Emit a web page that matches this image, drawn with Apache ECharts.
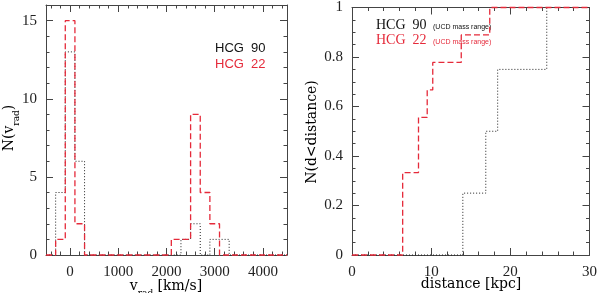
<!DOCTYPE html>
<html><head><meta charset="utf-8">
<script src="https://cdn.jsdelivr.net/npm/echarts@6/dist/echarts.min.js"></script>
<style>html,body{margin:0;padding:0;background:#fff}#c{width:600px;height:293px}</style>
</head><body><div id="c"></div>
<script>
// ---- Left panel: radial velocity histograms (bin edges, km/s) ----
const binEdges = [-500,-300,-100,100,300,500,700,900,1100,1300,1500,1700,1900,2100,2300,2500,2700,2900,3100,3300,3500,3700,3900,4100,4300,4500];
const countsHCG90 = [0,4,13,6,0,0,0,0,0,0,0,0,0,0,1,2,0,1,1,0,0,0,0,0,0];
const countsHCG22 = [0,1,15,2,0,0,0,0,0,0,0,0,0,1,1,9,4,2,0,0,0,0,0,0,0];
const vTicksMajor = [0,1000,2000,3000,4000];
const nTicksMajor = [0,5,10,15];
// ---- Right panel: cumulative distance distributions (kpc) ----
const distHCG90 = [0,14.0,16.9,18.4,24.6,30];
const cumHCG90  = [0,0.25,0.5,0.75,1,1];
const distHCG22 = [0,6.4,8.4,9.5,10.2,13.8,17.4,30];
const cumHCG22  = [0,0.333,0.556,0.667,0.778,0.889,1,1];

const RED = '#e52a3a', BLK = '#222';
const axisCol = '#444';
const tickFont = {fontFamily:'Liberation Serif', fontSize:15, color:'#222'};

function hist(counts){ return binEdges.map((e,i)=>[e, counts[Math.min(i,counts.length-1)]]); }
function zipXY(xs,ys){ return xs.map((x,i)=>[x,ys[i]]); }

const vMinor=[], nMinor=[];
for(let v=-400; v<=4400; v+=200) if(v%1000!==0) vMinor.push(v);
for(let n=1; n<=16; n++) if(n%5!==0) nMinor.push(n);

const LINE = {show:true, onZero:false, lineStyle:{color:axisCol, width:1}};
const NOLINE = {show:false, onZero:false};
function ax(extra){ return Object.assign({splitLine:{show:false}, axisLine:LINE}, extra); }
const MAJ=7, MIN=3.5;
const plainFmt = v => String(v);
const xAxes = [
  // left panel
  ax({gridIndex:0, type:'value', min:-500, max:4500, position:'bottom',
    axisTick:{inside:true, length:MAJ, customValues:vTicksMajor, lineStyle:{color:axisCol}},
    axisLabel:Object.assign({customValues:vTicksMajor, margin:10, formatter:plainFmt}, tickFont)}),
  ax({gridIndex:0, type:'value', min:-500, max:4500, position:'bottom',
    axisLine:NOLINE, axisLabel:{show:false},
    axisTick:{inside:true, length:MIN, customValues:vMinor, lineStyle:{color:axisCol}}}),
  ax({gridIndex:0, type:'value', min:-500, max:4500, position:'top',
    axisTick:{inside:true, length:MAJ, customValues:vTicksMajor, lineStyle:{color:axisCol}}, axisLabel:{show:false}}),
  ax({gridIndex:0, type:'value', min:-500, max:4500, position:'top',
    axisLine:NOLINE, axisLabel:{show:false},
    axisTick:{inside:true, length:MIN, customValues:vMinor, lineStyle:{color:axisCol}}}),
  // right panel
  ax({gridIndex:1, type:'value', min:0, max:30, interval:10, position:'bottom',
    axisTick:{inside:true, length:MAJ, lineStyle:{color:axisCol}},
    minorTick:{show:true, splitNumber:5, length:MIN, lineStyle:{color:axisCol}},
    axisLabel:Object.assign({margin:10}, tickFont)}),
  ax({gridIndex:1, type:'value', min:0, max:30, interval:10, position:'top',
    axisTick:{inside:true, length:MAJ, lineStyle:{color:axisCol}},
    minorTick:{show:true, splitNumber:5, length:MIN, lineStyle:{color:axisCol}},
    axisLabel:{show:false}})
];
const yAxes = [
  ax({gridIndex:0, type:'value', min:0, max:16, position:'left',
    axisTick:{inside:true, length:MAJ, customValues:nTicksMajor, lineStyle:{color:axisCol}},
    axisLabel:Object.assign({customValues:nTicksMajor, margin:9}, tickFont)}),
  ax({gridIndex:0, type:'value', min:0, max:16, position:'left',
    axisLine:NOLINE, axisLabel:{show:false},
    axisTick:{inside:true, length:MIN, customValues:nMinor, lineStyle:{color:axisCol}}}),
  ax({gridIndex:0, type:'value', min:0, max:16, position:'right',
    axisTick:{inside:true, length:MAJ, customValues:nTicksMajor, lineStyle:{color:axisCol}}, axisLabel:{show:false}}),
  ax({gridIndex:0, type:'value', min:0, max:16, position:'right',
    axisLine:NOLINE, axisLabel:{show:false},
    axisTick:{inside:true, length:MIN, customValues:nMinor, lineStyle:{color:axisCol}}}),
  ax({gridIndex:1, type:'value', min:0, max:1, interval:0.2, position:'left',
    axisTick:{inside:true, length:MAJ, lineStyle:{color:axisCol}},
    minorTick:{show:true, splitNumber:4, length:MIN, lineStyle:{color:axisCol}},
    axisLabel:Object.assign({margin:9}, tickFont)}),
  ax({gridIndex:1, type:'value', min:0, max:1, interval:0.2, position:'right',
    axisTick:{inside:true, length:MAJ, lineStyle:{color:axisCol}},
    minorTick:{show:true, splitNumber:4, length:MIN, lineStyle:{color:axisCol}},
    axisLabel:{show:false}})
];

function stepSeries(data, xi, yi, color, dash, w){
  return {type:'line', xAxisIndex:xi, yAxisIndex:yi, data, step:'end', showSymbol:false, symbol:'none',
    clip:false, animation:false, lineStyle:{color, width:w, type:dash}, z:3};
}

const serif = 'DejaVu Serif';
const nameRich = {
  a:{fontFamily:serif, fontSize:14, color:'#222', lineHeight:16, verticalAlign:'top'},
  s:{fontFamily:serif, fontSize:9, color:'#222', lineHeight:9, padding:[10,0,0,0], verticalAlign:'top'}
};

const option = {
  animation:false,
  backgroundColor:'#fff',
  grid:[
    {left:46, right:313, top:5, bottom:38},
    {left:352, right:8, top:7, bottom:38}
  ],
  xAxis:xAxes, yAxis:yAxes,
  series:[
    stepSeries(hist(countsHCG90), 0, 0, BLK, [1,2], 1),
    stepSeries(hist(countsHCG22), 0, 0, RED, [6,3], 1.3),
    stepSeries(zipXY(distHCG90,cumHCG90), 4, 4, BLK, [1,2], 1),
    stepSeries(zipXY(distHCG22,cumHCG22), 4, 4, RED, [6,3], 1.3)
  ],
  graphic:[
    {type:'text', left:215, top:42, style:{text:'HCG  90', fill:'#111', font:'13px "Liberation Sans"'}},
    {type:'text', left:215, top:58, style:{text:'HCG  22', fill:RED, font:'13px "Liberation Sans"'}},
    {type:'text', left:376, top:18, style:{text:'HCG  90', fill:'#111', font:'14px "Liberation Serif"'}},
    {type:'text', left:433, top:24, style:{text:'(UCD mass range)', fill:'#111', font:'7px "Liberation Sans"'}},
    {type:'text', left:376, top:33, style:{text:'HCG  22', fill:RED, font:'14px "Liberation Serif"'}},
    {type:'text', left:433, top:39, style:{text:'(UCD mass range)', fill:RED, font:'7px "Liberation Sans"'}},
    {type:'text', x:166, y:287, style:{text:'{a|v}{s|rad}{a| [km/s]}', rich:nameRich, align:'center', verticalAlign:'middle'}},
    {type:'text', x:471, y:285, style:{text:'{a|distance [kpc]}', rich:nameRich, align:'center', verticalAlign:'middle'}},
    {type:'text', x:10, y:128, rotation:Math.PI/2, style:{text:'{a|N(v}{s|rad}{a|)}', rich:nameRich, align:'center', verticalAlign:'middle'}},
    {type:'text', x:313, y:132, rotation:Math.PI/2, style:{text:'{a|N(d<distance)}', rich:nameRich, align:'center', verticalAlign:'middle'}}
  ]
};
const chart = echarts.init(document.getElementById('c'), null, {renderer:'canvas'});
chart.setOption(option);
</script></body></html>
